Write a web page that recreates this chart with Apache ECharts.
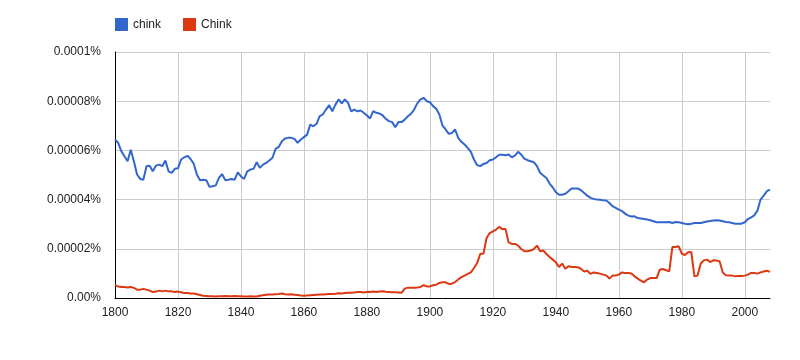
<!DOCTYPE html>
<html>
<head>
<meta charset="utf-8">
<script src="https://cdn.jsdelivr.net/npm/echarts@6/dist/echarts.min.js"></script>
<style>
html,body{margin:0;padding:0;background:#fff;}
#chart{width:800px;height:360px;}
</style>
</head>
<body>
<div id="chart"></div>
<script>
// Values are in millionths of a percent (e.g. 20 = 0.00002%)
var startYear = 1800, endYear = 2008;
var seriesNames = ['chink', 'Chink'];
var chinkLower = [
64.4,63.1,59.7,57.6,55.6,60.3,55.6,50.2,48.4,48.1,
53.6,53.8,51.5,53.8,54.2,53.6,55.9,51.5,50.9,52.5,
52.7,56.3,57.2,57.8,56.5,54.6,50.2,47.9,48.1,47.9,
45.2,45.4,45.8,48.8,50.4,47.9,48.1,48.4,48.1,51.1,
49.4,48.4,51.5,52.2,52.5,55.2,52.9,54.2,54.9,55.9,
57.0,60.6,61.4,63.7,64.8,65.1,65.1,64.7,63.1,64.4,
65.4,66.4,70.5,69.8,70.8,73.9,74.6,76.6,78.4,75.9,
78.6,80.7,79.1,80.7,79.3,75.9,76.6,75.9,76.2,75.3,
74.2,73.0,76.0,75.3,75.0,74.2,72.8,71.9,71.5,69.4,
71.5,71.5,72.5,73.9,74.9,76.6,79.1,80.7,81.4,80.0,
79.6,78.0,76.9,74.6,70.1,68.5,66.7,67.1,68.5,65.1,
63.5,62.4,61.0,59.4,56.3,54.0,53.6,54.5,54.9,56.0,
56.3,57.2,58.2,58.2,58.0,58.3,57.2,57.9,59.4,58.3,
56.7,56.0,55.6,55.2,53.6,50.9,49.8,48.8,46.5,45.0,
43.0,42.0,42.0,42.4,43.4,44.5,44.5,44.5,43.8,42.7,
41.6,40.7,40.3,40.0,39.9,39.7,39.6,38.6,37.3,36.6,
35.9,35.3,34.3,33.5,33.1,33.2,32.5,32.3,32.1,31.9,
31.6,31.2,30.8,30.8,30.8,30.8,30.9,30.5,30.9,30.8,
30.5,30.2,30.0,30.2,30.5,30.5,30.5,30.8,31.1,31.3,
31.5,31.6,31.5,31.2,30.9,30.8,30.5,30.2,30.2,30.2,
30.8,32.1,32.8,33.6,35.5,40.0,41.6,43.4,44.1
];
var chinkUpper = [
5.2,4.7,4.5,4.5,4.3,4.5,4.1,3.4,3.4,3.7,
3.4,3.0,2.4,2.6,3.0,2.7,3.0,2.7,2.7,2.4,
2.6,2.3,2.0,2.0,1.8,1.8,1.5,1.2,0.9,0.8,
0.7,0.7,0.6,0.7,0.7,0.8,0.7,0.7,0.8,0.7,
0.7,0.6,0.6,0.7,0.6,0.6,0.9,1.1,1.3,1.4,
1.4,1.5,1.6,1.8,1.5,1.4,1.5,1.3,1.2,1.0,
0.9,1.0,1.1,1.2,1.3,1.4,1.4,1.5,1.6,1.6,
1.7,1.9,1.8,2.0,2.1,2.1,2.2,2.4,2.4,2.2,
2.5,2.4,2.6,2.4,2.6,2.7,2.5,2.4,2.3,2.3,
2.2,2.1,3.8,4.2,4.2,4.2,4.3,4.5,5.2,4.7,
4.7,5.2,5.4,6.1,6.4,6.4,5.7,5.8,6.5,7.5,
8.5,9.1,9.8,10.4,12.2,14.2,18.0,18.0,24.4,26.4,
27.1,27.8,28.9,28.0,28.1,22.6,22.0,22.0,21.3,19.9,
19.0,19.0,19.3,19.9,21.3,19.0,19.3,17.9,16.7,15.6,
14.5,12.6,14.0,11.9,12.9,12.6,12.6,12.5,11.8,10.8,
11.1,9.8,10.4,10.2,9.9,9.5,9.2,7.9,9.1,9.1,
9.5,10.4,10.2,10.2,10.0,8.8,7.9,7.1,6.4,7.5,
8.1,8.1,8.1,11.5,11.8,11.3,10.8,20.7,20.7,21.0,
18.0,17.5,18.6,18.7,8.8,9.1,14.0,15.3,15.6,14.6,
15.3,15.2,14.9,10.4,9.2,9.1,9.1,8.8,8.9,8.9,
9.1,9.5,10.2,10.2,9.9,10.4,10.8,11.1,10.6
];
var yTickValues = [0, 20, 40, 60, 80, 100];
var yTickLabels = ['0.00%', '0.00002%', '0.00004%', '0.00006%', '0.00008%', '0.0001%'];

var years = [];
for (var y = startYear; y <= endYear; y++) years.push(String(y));

var chart = echarts.init(document.getElementById('chart'), null, {renderer: 'canvas'});
chart.setOption({
  animation: false,
  backgroundColor: '#ffffff',
  textStyle: {fontFamily: 'Liberation Sans, Arial, sans-serif'},
  color: ['#3366cc', '#dc3912'],
  legend: {
    left: 110, top: 13,
    icon: 'rect', itemWidth: 13, itemHeight: 13, itemGap: 22,
    textStyle: {fontSize: 12, color: '#222', fontFamily: 'Liberation Sans, Arial, sans-serif'},
    data: seriesNames
  },
  grid: {left: 115, right: 30, top: 52, bottom: 62, containLabel: false},
  xAxis: {
    type: 'category',
    data: years,
    boundaryGap: false,
    axisLine: {show: true, lineStyle: {color: '#000', width: 1}},
    axisTick: {show: false},
    axisLabel: {
      interval: function (i, v) { return (+v) % 20 === 0; },
      color: '#222', fontSize: 12, margin: 9,
      fontFamily: 'Liberation Sans, Arial, sans-serif'
    },
    splitLine: {
      show: true,
      interval: function (i, v) { return (+v) % 20 === 0; },
      lineStyle: {color: '#cccccc', width: 1}
    }
  },
  yAxis: {
    type: 'value',
    min: 0, max: 100, interval: 20,
    axisLine: {show: true, lineStyle: {color: '#000', width: 1}},
    axisTick: {show: false},
    axisLabel: {
      color: '#222', fontSize: 12, margin: 14,
      fontFamily: 'Liberation Sans, Arial, sans-serif',
      formatter: function (v) {
        var i = yTickValues.indexOf(Math.round(v));
        return i >= 0 ? yTickLabels[i] : '';
      }
    },
    splitLine: {show: true, lineStyle: {color: '#cccccc', width: 1}}
  },
  series: [
    {name: seriesNames[0], type: 'line', data: chinkLower, showSymbol: false, symbol: 'none',
     lineStyle: {width: 2, color: '#3366cc'}, itemStyle: {color: '#3366cc'}, z: 3},
    {name: seriesNames[1], type: 'line', data: chinkUpper, showSymbol: false, symbol: 'none',
     lineStyle: {width: 2, color: '#dc3912'}, itemStyle: {color: '#dc3912'}, z: 4}
  ]
});
</script>
</body>
</html>
